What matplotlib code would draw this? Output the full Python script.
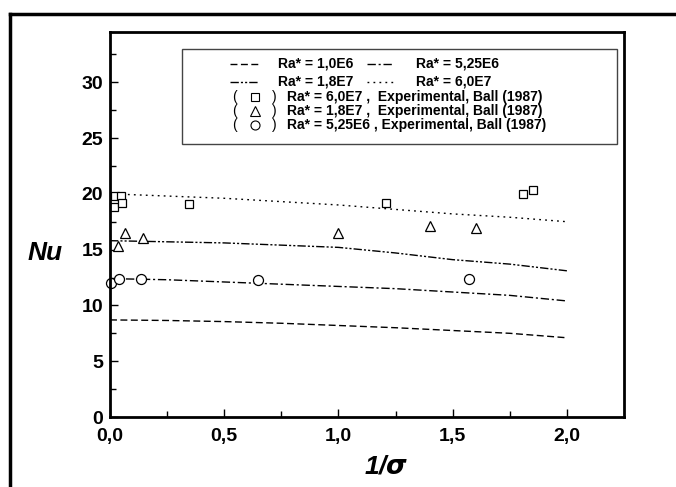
import numpy as np
import matplotlib.pyplot as plt
from matplotlib.lines import Line2D
from matplotlib.patches import Rectangle

plt.rcParams['font.family'] = ['Liberation Sans', 'DejaVu Sans']
plt.rcParams['font.weight'] = 'bold'
plt.rcParams['mathtext.default'] = 'it'

# numerical curves, Nu vs 1/sigma
x_curve = [0.0, 0.25, 0.5, 0.75, 1.0, 1.25, 1.5, 1.75, 2.0]
nu_1e6 = [8.7, 8.65, 8.55, 8.4, 8.2, 8.0, 7.75, 7.5, 7.1]
nu_525e6 = [12.4, 12.3, 12.1, 11.9, 11.7, 11.5, 11.2, 10.9, 10.4]
nu_18e7 = [15.8, 15.7, 15.6, 15.4, 15.2, 14.7, 14.1, 13.7, 13.1]
nu_6e7 = [20.0, 19.8, 19.6, 19.3, 19.0, 18.6, 18.2, 17.9, 17.5]

# experimental points, Ball (1987)
x_sq = [0.02, 0.048, 0.017, 0.054, 0.346, 1.21, 1.81, 1.85]
y_sq = [19.8, 19.8, 18.85, 19.15, 19.1, 19.2, 20.0, 20.3]
x_tri = [0.036, 0.066, 0.146, 0.996, 1.40, 1.60]
y_tri = [15.3, 16.5, 16.0, 16.5, 17.1, 16.9]
x_circ = [0.004, 0.039, 0.136, 0.646, 1.57]
y_circ = [12.0, 12.4, 12.35, 12.3, 12.4]

W, H = 676, 487
fig = plt.figure(figsize=(W / 100, H / 100), dpi=100)
ax = fig.add_axes([110 / W, 1 - 417 / H, (624 - 110) / W, (417 - 32) / H])


def fpos(x, y):
    return x / W, 1 - y / H


styles = {
    '1e6': dict(dashes=(5, 2.5)),
    '525e6': dict(dashes=(6, 2, 1.5, 2)),
    '18e7': dict(dashes=(6, 1.5, 1.5, 1.5, 1.5, 1.5)),
    '6e7': dict(dashes=(1.3, 3)),
}

ax.plot(x_curve, nu_1e6, color='black', lw=1.0, **styles['1e6'])
ax.plot(x_curve, nu_525e6, color='black', lw=1.0, **styles['525e6'])
ax.plot(x_curve, nu_18e7, color='black', lw=1.0, **styles['18e7'])
ax.plot(x_curve, nu_6e7, color='black', lw=1.0, **styles['6e7'])

mk = dict(linestyle='none', mfc='white', mec='black', mew=0.9, clip_on=False)
ax.plot(x_sq, y_sq, marker='s', ms=6.2, **mk)
ax.plot(x_tri, y_tri, marker='^', ms=7.2, **mk)
ax.plot(x_circ, y_circ, marker='o', ms=7.2, **mk)

ax.set_xlim(0, 2.25)
ax.set_ylim(0, 34.5)
ax.set_xticks([0, 0.5, 1.0, 1.5, 2.0])
ax.set_xticklabels(['0,0', '0,5', '1,0', '1,5', '2,0'])
ax.set_xticks(np.arange(0.25, 2.25, 0.5), minor=True)
ax.set_yticks([0, 5, 10, 15, 20, 25, 30])
ax.set_yticks(np.arange(2.5, 34, 5), minor=True)
ax.tick_params(which='both', direction='in', width=1.0, labelsize=14)
ax.tick_params(which='major', length=6)
ax.tick_params(which='minor', length=4)
ax.tick_params(axis='x', pad=8)
ax.tick_params(axis='y', pad=5)
for lab in ax.get_xticklabels() + ax.get_yticklabels():
    lab.set_fontweight('bold')
for s in ax.spines.values():
    s.set_linewidth(2.0)

fig.text(*fpos(45, 253), 'Nu', fontsize=19, style='italic', fontweight='bold',
         ha='center', va='center')
fig.text(*fpos(386, 466), r'1/$\sigma$', fontsize=19, style='italic', fontweight='bold',
         ha='center', va='center')

# legend box drawn by hand
fig.patches.append(Rectangle(fpos(182, 144), (617 - 182) / W, (144 - 49) / H,
                             transform=fig.transFigure, fill=False, ec='#444444', lw=1.0))
leg_fs = 10


def leg_line(x0, x1, y, st):
    a, b = fpos(x0, y)
    c, _ = fpos(x1, y)
    fig.add_artist(Line2D([a, c], [b, b], transform=fig.transFigure, color='black',
                          lw=1.0, **st))


leg_line(230, 258, 64, styles['1e6'])
fig.text(*fpos(278, 64), 'Ra* = 1,0E6', fontsize=leg_fs, fontweight='bold', va='center')
leg_line(367, 393, 64, styles['525e6'])
fig.text(*fpos(416, 64), 'Ra* = 5,25E6', fontsize=leg_fs, fontweight='bold', va='center')
leg_line(230, 258, 82, styles['18e7'])
fig.text(*fpos(278, 82), 'Ra* = 1,8E7', fontsize=leg_fs, fontweight='bold', va='center')
leg_line(367, 393, 82, styles['6e7'])
fig.text(*fpos(416, 82), 'Ra* = 6,0E7', fontsize=leg_fs, fontweight='bold', va='center')

rows = [(97, 's', 5.5, 'Ra* = 6,0E7 ,  Experimental, Ball (1987)'),
        (111, '^', 6.5, 'Ra* = 1,8E7 ,  Experimental, Ball (1987)'),
        (125, 'o', 6.5, 'Ra* = 5,25E6 , Experimental, Ball (1987)')]
for y, m, ms, txt in rows:
    fig.text(*fpos(232, y), '(', fontsize=leg_fs, fontweight='normal', va='center')
    fig.add_artist(Line2D([fpos(255, y)[0]], [fpos(255, y)[1]], transform=fig.transFigure,
                          marker=m, ms=ms, mfc='white', mec='black', mew=0.8, ls='none'))
    fig.text(*fpos(272, y), ')', fontsize=leg_fs, fontweight='normal', va='center')
    fig.text(*fpos(287, y), txt, fontsize=leg_fs, fontweight='bold', va='center')

# outer frame (cropped on the right and bottom)
fig.add_artist(Line2D([fpos(10, 0)[0]] * 2, [fpos(0, 14)[1], 0], transform=fig.transFigure,
                      color='black', lw=2.5))
fig.add_artist(Line2D([fpos(10, 0)[0], 1], [fpos(0, 14)[1]] * 2, transform=fig.transFigure,
                      color='black', lw=2.5))

fig.savefig('out.png', dpi=100)
